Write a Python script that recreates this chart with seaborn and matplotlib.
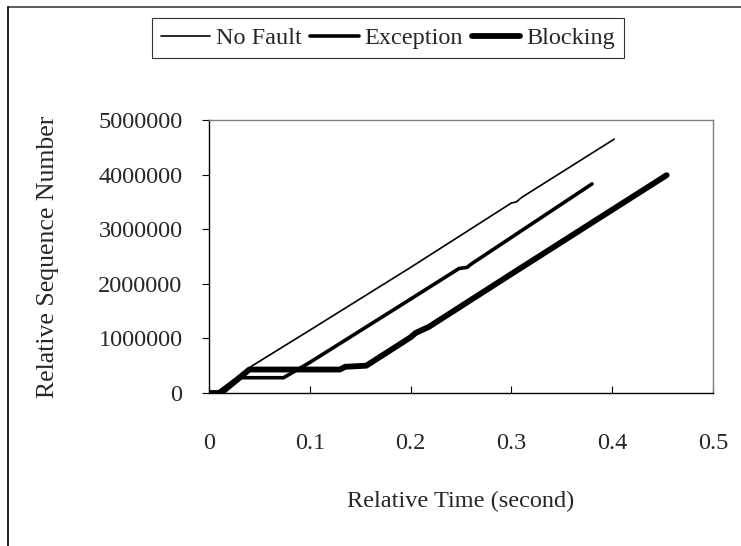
import pandas as pd
import numpy as np
import matplotlib
matplotlib.use("Agg")
import matplotlib.pyplot as plt
from matplotlib.lines import Line2D
import seaborn as sns

# values
no_fault_x = [0, 0.008, 0.043, 0.1, 0.2, 0.3, 0.305, 0.31, 0.402]
no_fault_y = [0, 20000, 500000, 1150000, 2300000, 3480000, 3500000, 3580000, 4650000]

exception_x = [0, 0.012, 0.032, 0.074, 0.1, 0.2, 0.248, 0.256, 0.26, 0.3, 0.38]
exception_y = [0, 0, 280000, 280000, 560000, 1720000, 2280000, 2300000, 2360000, 2850000, 3830000]

blocking_x = [0, 0.012, 0.04, 0.13, 0.135, 0.156, 0.2, 0.205, 0.218, 0.3, 0.454]
blocking_y = [0, 0, 430000, 430000, 480000, 500000, 1020000, 1100000, 1210000, 2180000, 3990000]

series_names = ["No Fault", "Exception", "Blocking"]
x_ticks = [0, 0.1, 0.2, 0.3, 0.4, 0.5]
x_tick_labels = ["0", "0.1", "0.2", "0.3", "0.4", "0.5"]
y_ticks = [0, 1000000, 2000000, 3000000, 4000000, 5000000]

sns.set_theme(style="white")
plt.rcParams['font.family'] = ['Liberation Serif', 'DejaVu Serif']

frames = []
for name, xs, ys in zip(series_names,
                        [no_fault_x, exception_x, blocking_x],
                        [no_fault_y, exception_y, blocking_y]):
    frames.append(pd.DataFrame({"time": xs, "seq": ys, "series": name}))
df = pd.concat(frames, ignore_index=True)

fig = plt.figure(figsize=(7.41, 5.46), dpi=100)
ax = fig.add_axes([209 / 741, 1 - 393 / 546, 504 / 741, 273 / 546])

widths = {"No Fault": 1.2, "Exception": 2.6, "Blocking": 4.2}
handles = []
for name in series_names:
    sub = df[df["series"] == name]
    sns.lineplot(data=sub, x="time", y="seq", ax=ax, color="black",
                 linewidth=widths[name], estimator=None, sort=False,
                 solid_capstyle="round", solid_joinstyle="round")
    handles.append(Line2D([0], [0], color="black", linewidth=widths[name],
                          solid_capstyle="round"))

ax.set_xlim(0, 0.5)
ax.set_ylim(0, 5000000)
ax.set_xticks(x_ticks)
ax.set_xticklabels(x_tick_labels)
ax.set_yticks(y_ticks)
ax.set_yticklabels([str(v) for v in y_ticks])

fs = 17.5
ax.tick_params(axis="x", direction="in", length=5, width=0.8, color="black",
               labelsize=fs, pad=29, bottom=True)
ax.tick_params(axis="y", direction="out", length=5, width=0.8, color="black",
               labelsize=fs, pad=14, left=True)

for side in ["left", "bottom"]:
    ax.spines[side].set_color("black")
    ax.spines[side].set_linewidth(1.0)
for side in ["top", "right"]:
    ax.spines[side].set_color("#808080")
    ax.spines[side].set_linewidth(1.0)

ax.set_xlabel("Relative Time (second)", fontsize=fs, labelpad=26)
ax.set_ylabel("Relative Sequence Number", fontsize=18.5, labelpad=28)

leg = fig.legend(handles, series_names, loc="center",
                 bbox_to_anchor=(388 / 741, 1 - 38 / 546), ncol=3,
                 fontsize=fs, frameon=True, fancybox=False,
                 handlelength=2.0, handletextpad=0.25, columnspacing=0.35,
                 borderpad=0.35, borderaxespad=0)
leg.get_frame().set_edgecolor("black")
leg.get_frame().set_linewidth(0.8)

# outer chart frame (top and left edges visible)
fig.add_artist(Line2D([8 / 741, 1.0], [1 - 7 / 546, 1 - 7 / 546],
                      transform=fig.transFigure, color="#404040", linewidth=1.2))
fig.add_artist(Line2D([8 / 741, 8 / 741], [0, 1 - 7 / 546],
                      transform=fig.transFigure, color="black", linewidth=1.2))

fig.savefig("out.png", dpi=100)
